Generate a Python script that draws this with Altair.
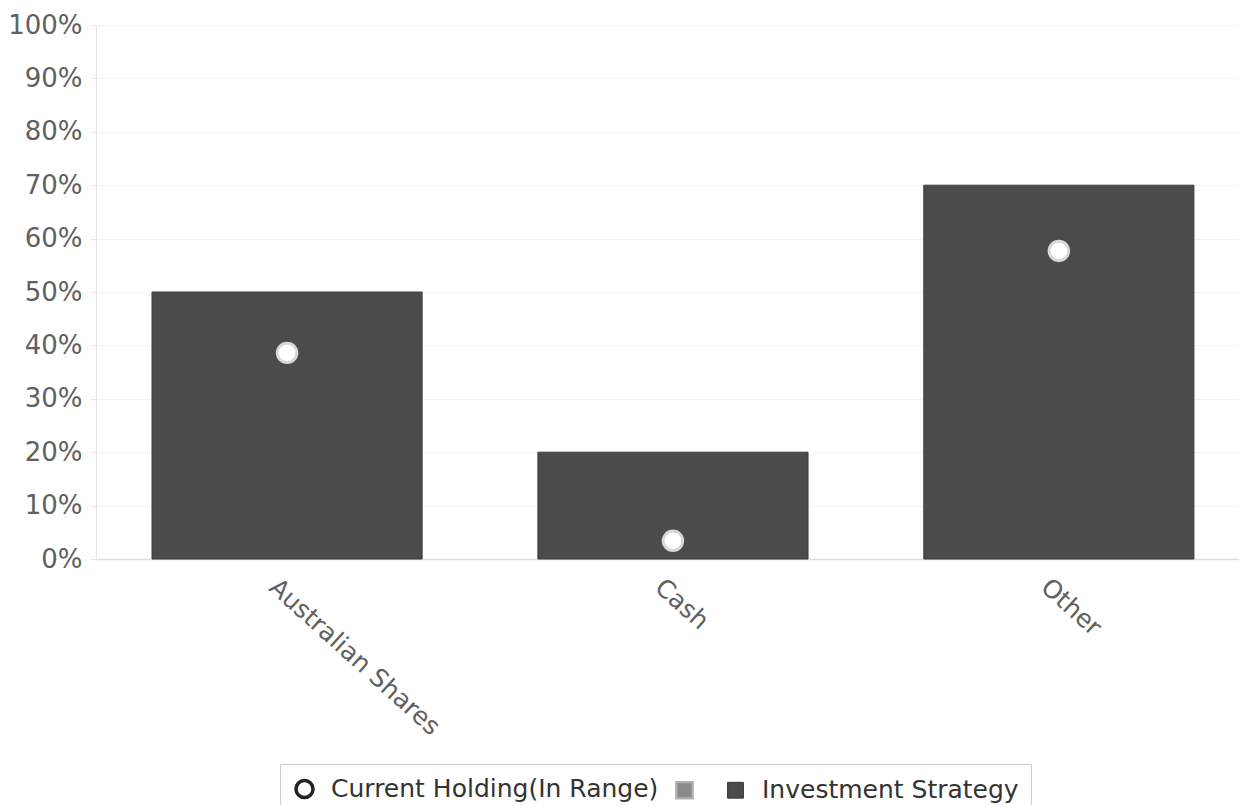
import altair as alt
import pandas as pd

categories = ["Australian Shares", "Cash", "Other"]
strategy = [0.50, 0.20, 0.70]
holding = [0.386, 0.034, 0.577]

series_names = ["Current Holding(In Range)", " ", "Investment Strategy"]
series_fill = ["#ffffff", "#8a8a8a", "#4b4b4b"]
series_stroke = ["#222222", "#b0b0b0", "#333333"]
series_shape = ["circle", "square", "square"]
series_stroke_w = [3.5, 1, 1]
series_size = [290, 250, 250]

bars_df = pd.DataFrame({"category": categories, "value": strategy})
pts_df = pd.DataFrame({"category": categories, "value": holding,
                       "series": [series_names[0]] * len(categories)})

FONT = "DejaVu Sans"

x_enc = alt.X("category:N", sort=categories, title=None,
              scale=alt.Scale(paddingInner=0.3, paddingOuter=0.131, align=0.554),
              axis=alt.Axis(labelAngle=42, labelAlign="left", labelBaseline="middle",
                            labelFontSize=25, labelColor="#606060", labelFont=FONT,
                            labelPadding=24, ticks=False, domainColor="#dddddd",
                            domainWidth=1.5, grid=False, labelOffset=-14, labelLimit=0))
y_enc = alt.Y("value:Q", title=None,
              scale=alt.Scale(domain=[0, 1], nice=False),
              axis=alt.Axis(format=".0%", values=[i / 10 for i in range(11)],
                            labelFontSize=26, labelColor="#606060", labelFont=FONT,
                            labelPadding=8, tickColor="#e6e6e6", tickSize=6,
                            domainColor="#e6e6e6", gridColor="#f3f3f3"))

legend = alt.Legend(
    title=None, orient="none", direction="horizontal", legendX=184, legendY=739,
    labelFontSize=25, labelFont=FONT, labelColor="#333333", labelLimit=0,
    columnPadding=12, labelOffset=14, symbolOpacity=1,
    strokeColor="#cccccc", fillColor="#ffffff", padding=12,
)

bars = alt.Chart(bars_df).mark_bar(color="#4b4b4b", stroke="#3f3f3f", strokeWidth=1).encode(
    x=x_enc, y=y_enc)

points = alt.Chart(pts_df).mark_point(filled=True, size=380, color="#ffffff",
                                      stroke="#d8d8d8", strokeWidth=3, opacity=1).encode(
    x=x_enc, y=y_enc)

legend_layer = alt.Chart(pts_df).mark_point(filled=True, opacity=0).encode(
    x=x_enc, y=y_enc,
    color=alt.Color("series:N", scale=alt.Scale(domain=series_names, range=series_fill), legend=legend),
    shape=alt.Shape("series:N", scale=alt.Scale(domain=series_names, range=series_shape), legend=legend),
    stroke=alt.Stroke("series:N", scale=alt.Scale(domain=series_names, range=series_stroke), legend=legend),
    strokeWidth=alt.StrokeWidth("series:N", scale=alt.Scale(domain=series_names, range=series_stroke_w), legend=legend),
    size=alt.Size("series:N", scale=alt.Scale(domain=series_names, range=series_size), legend=legend),
)

chart = alt.layer(bars, points, legend_layer).properties(
    width=1143, height=534,
    autosize=alt.AutoSizeParams(type="none"),
    padding={"left": 96, "top": 25, "right": 0, "bottom": 246},
).configure_view(stroke=None).configure(background="white")

chart.save("out.html", embed_options={"renderer": "svg", "actions": False})
